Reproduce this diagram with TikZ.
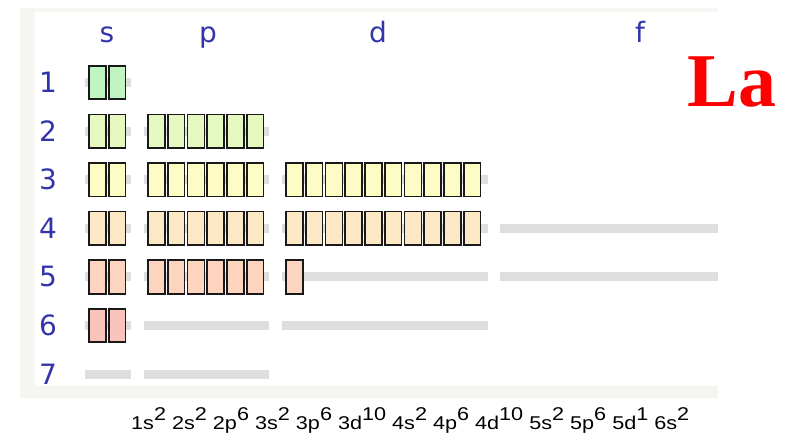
\documentclass[tikz,border=0pt]{standalone}
\usepackage{fontspec}
\usepackage{graphicx}
\setmainfont{Liberation Serif}
\newfontfamily\lblfont{DejaVu Sans}
\newfontfamily\cfgfont{Liberation Sans}
\definecolor{lblblue}{RGB}{52,52,170}
\definecolor{barg}{RGB}{222,222,222}
\definecolor{panelg}{RGB}{245,245,242}
\definecolor{rowA}{RGB}{192,244,192}
\definecolor{rowB}{RGB}{228,248,192}
\definecolor{rowC}{RGB}{252,252,196}
\definecolor{rowD}{RGB}{252,232,196}
\definecolor{rowE}{RGB}{252,212,192}
\definecolor{rowF}{RGB}{250,196,188}
\newcommand{\cfgsup}[1]{\raisebox{7pt}{#1}}
\tikzset{
  orb/.style={draw=black!90, line width=1.7pt, minimum width=16.8pt, minimum height=33.5pt, inner sep=0pt, anchor=west},
  shelllbl/.style={font=\lblfont\fontsize{28}{30}\selectfont, text=lblblue, inner sep=0pt},
  sublbl/.style={font=\lblfont\fontsize{28}{30}\selectfont, text=lblblue, inner sep=0pt, anchor=base},
  levelbar/.style={fill=barg, draw=none},
}
\begin{document}
\begin{tikzpicture}[x=1pt,y=-1pt]
\useasboundingbox (0,0) rectangle (785,440);
\fill[white] (0,0) rectangle (785,440);
% panel
\fill[panelg] (20,8) rectangle (718,398);
\fill[white] (35,12) rectangle (718,386);
% headers
\node[sublbl] (hs) at (107,42) {s};
\node[sublbl] (hp) at (208,42) {p};
\node[sublbl] (hd) at (378,42) {d};
\node[sublbl] (hf) at (640,42) {f};
% shell numbers
\foreach \n in {1,...,7}{
  \node[shelllbl] (n\n) at (48,{82.5+48.6*(\n-1)}) {\n};
}
% bars: row / x1 / x2
\foreach \r/\a/\b in {1/85/131,2/85/131,3/85/131,4/85/131,5/85/131,6/85/131,7/85/131,
  2/144/269,3/144/269,4/144/269,5/144/269,6/144/269,7/144/269,
  3/282/488,4/282/488,5/282/488,6/282/488,
  4/500/718,5/500/718}{
  \fill[levelbar] (\a,{82.5+48.6*(\r-1)-4.5}) rectangle (\b,{82.5+48.6*(\r-1)+4.5});
}
% orbital boxes: row / group start / count / colour / tag
\foreach \r/\x/\c/\col/\t in {1/89/2/rowA/s,
  2/89/2/rowB/s,2/148/6/rowB/p,
  3/89/2/rowC/s,3/148/6/rowC/p,3/286/10/rowC/d,
  4/89/2/rowD/s,4/148/6/rowD/p,4/286/10/rowD/d,
  5/89/2/rowE/s,5/148/6/rowE/p,5/286/1/rowE/d,
  6/89/2/rowF/s}{
  \foreach \k in {1,...,\c}{
    \node[orb, fill=\col] (b\r\t\k) at ({\x+19.75*(\k-1)-0.8},{82.5+48.6*(\r-1)}) {};
  }
}
% element symbol
\node[font=\fontsize{76}{80}\selectfont\bfseries, text=red, inner sep=0pt, anchor=base] (el) at (732,106) {La};
% configuration
\node[inner sep=0pt, anchor=base west] (cfg) at (131,429)
 {\resizebox{558pt}{21pt}{\cfgfont\fontsize{16}{18}\selectfont 1s\cfgsup{2} 2s\cfgsup{2} 2p\cfgsup{6} 3s\cfgsup{2} 3p\cfgsup{6} 3d\cfgsup{10} 4s\cfgsup{2} 4p\cfgsup{6} 4d\cfgsup{10} 5s\cfgsup{2} 5p\cfgsup{6} 5d\cfgsup{1} 6s\cfgsup{2}}};
\end{tikzpicture}
\end{document}
